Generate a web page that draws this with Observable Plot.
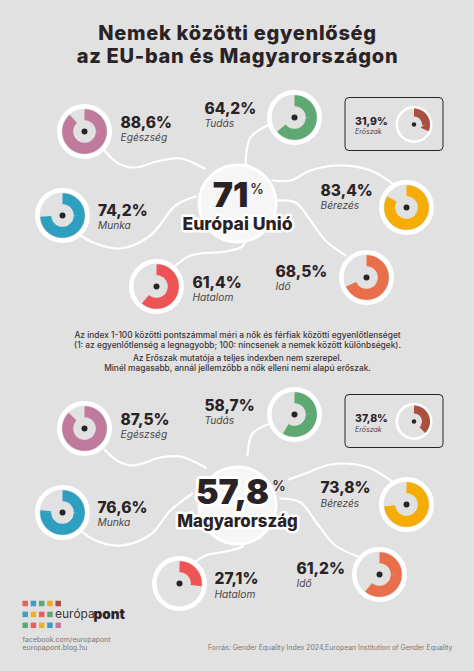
<!DOCTYPE html>
<html lang="hu"><head><meta charset="utf-8">
<script src="https://cdn.jsdelivr.net/npm/d3@7"></script>
<script src="https://cdn.jsdelivr.net/npm/@observablehq/plot@0.6"></script>
<style>html,body{margin:0;padding:0;background:#e2e1e1}svg{display:block}.ttl{letter-spacing:.72px}</style>
</head><body>
<script>
// ---- data ----
const categories = ["Egészség","Tudás","Erőszak","Munka","Bérezés","Hatalom","Idő"];
const euValues = [88.6,64.2,31.9,74.2,83.4,61.4,68.5];
const huValues = [87.5,58.7,37.8,76.6,73.8,27.1,61.2];
const euTotal = 71, huTotal = 57.8;
const colors = ["#c07b9c","#5da873","#a9503f","#2f9fc0","#f5ad05","#ee5454","#e86f4a"];
const titleLines = ["Nemek közötti egyenlőség","az EU-ban és Magyarországon"];
const noteLines = [
 "Az index 1-100 közötti pontszámmal méri a nők és férfiak közötti egyenlőtlenséget",
 "(1: az egyenlőtlenség a legnagyobb; 100: nincsenek a nemek között különbségek).",
 "Az Erőszak mutatója a teljes indexben nem szerepel.",
 "Minél magasabb, annál jellemzőbb a nők elleni nemi alapú erőszak."];
const logoColors = [
 ["#e0645c","#3f9cc4","#5da873","#f0a92a","#a9503f"],
 ["#3f9cc4","#f0b020","#e8605c","#5da873"],
 ["#5da873","#e8605c","#f0b020","#3f9cc4","#c07b9c"]];

// ---- layout ----
const euCenters = [[84,131],[294,117],[413.5,124],[62,215],[406,207],[156,286],[366,277]];
const huCenters = [[84,428],[294,414],[413.5,421],[62,512],[406,504],[179,583],[379,574]];
const euLabels = [[120,122.3,137.3],[204,108.3,123],[354.5,121,131.6],[97.5,210.3,225],[320,190.3,205.3],[192,282.3,297],[275,271.7,286.4]];
const huLabels = [[120,419.3,434.2],[204,405.3,420],[354.5,418.3,429],[97,507.7,522.2],[320,488,502.8],[214,579,593.8],[296,568.3,583]];
const euLinks = [
 [[104,150],[118,163],[135,167],[160,160],[180,158],[204,168]],
 [[267,125],[250,137],[245,165]],
 [[272,180],[290,180],[310,170],[335,165],[370,170],[393,184]],
 [[277,200],[295,202],[310,220],[325,240],[345,255]],
 [[195,196],[175,205],[150,235],[120,248],[95,243],[80,235]],
 [[243,235],[243,245],[225,251],[190,255],[170,270]]];
const huLinks = [
 [[104,449],[118,461],[133,465],[160,457],[180,456],[205,467]],
 [[270,423],[252,433],[247,455]],
 [[288,479],[305,473],[330,464],[365,466],[393,482]],
 [[280,498],[300,502],[318,525],[335,545],[360,557]],
 [[192,493],[170,510],[150,534],[120,545],[95,540],[80,530]],
 [[243,535],[243,545],[225,551],[205,555],[190,565]]];

const FONT = "Inter, 'Open Sans', sans-serif";
const INK = "#2a2326";
const fmt = v => String(v).replace(".",",");
const isSmall = i => categories[i] === "Erőszak";

function arcPoints(values, centers, big){
  const out = [];
  values.forEach((v,i)=>{
    if (isSmall(i) === big) return;
    const r = big ? 16.8 : 12, [cx,cy] = centers[i];
    const n = Math.ceil(v*2);
    for (let k=0;k<=n;k++){
      const a = 2*Math.PI*(v*k/n)/100;
      out.push({cat:categories[i], x:cx+r*Math.sin(a), y:cy-r*Math.cos(a)});
    }
  });
  return out;
}
function panel(values, centers, labels, links, total, c){
  const nodes = categories.map((cat,i)=>({cat, x:centers[i][0], y:centers[i][1], small:isSmall(i)}));
  const lbl = categories.map((cat,i)=>({cat, v:fmt(values[i])+"%", x:labels[i][0], y1:labels[i][1], y2:labels[i][2], small:isSmall(i)}));
  const linkPts = links.flatMap((pts,id)=>pts.map(p=>({id,x:p[0],y:p[1]})));
  const big = nodes.filter(d=>!d.small), small = nodes.filter(d=>d.small);
  const lb = lbl.filter(d=>!d.small), ls = lbl.filter(d=>d.small);
  return [
    Plot.line(linkPts,{x:"x",y:"y",z:"id",curve:"catmull-rom",stroke:"#fff",strokeWidth:2.2}),
    Plot.dot(big,{x:"x",y:"y",r:25.2,fill:"#e2e1e1",stroke:"#fff",strokeWidth:4.6}),
    Plot.dot(small,{x:"x",y:"y",r:17.2,fill:"#e2e1e1",stroke:"#fff",strokeWidth:2.6}),
    Plot.line(arcPoints(values,centers,true),{x:"x",y:"y",z:"cat",stroke:"cat",strokeWidth:11,curve:"linear",strokeLinecap:"butt",strokeLinejoin:"round"}),
    Plot.line(arcPoints(values,centers,false),{x:"x",y:"y",z:"cat",stroke:"cat",strokeWidth:8,curve:"linear",strokeLinecap:"butt",strokeLinejoin:"round"}),
    Plot.dot(big,{x:"x",y:"y",r:3,fill:INK,stroke:null}),
    Plot.dot(small,{x:"x",y:"y",r:2.2,fill:INK,stroke:null}),
    Plot.text(lb,{x:"x",y:"y1",text:"v",textAnchor:"start",fontFamily:FONT,fontWeight:800,fontSize:15.5,fill:INK}),
    Plot.text(lb,{x:"x",y:"y2",text:"cat",textAnchor:"start",fontFamily:FONT,fontStyle:"italic",fontSize:10.2,fill:"#4a4547"}),
    Plot.text(ls,{x:"x",y:"y1",text:"v",textAnchor:"start",fontFamily:FONT,fontWeight:800,fontSize:10.5,fill:INK}),
    Plot.text(ls,{x:"x",y:"y2",text:"cat",textAnchor:"start",fontFamily:FONT,fontStyle:"italic",fontSize:7,fill:"#4a4547"}),
    Plot.dot([c.ring],{x:"x",y:"y",r:38.5,fill:"#f6f6f6",stroke:"#fff",strokeWidth:3}),
    Plot.text([c.big],{x:"x",y:"y",text:()=>fmt(total),fontFamily:FONT,fontWeight:900,fontSize:c.big.size,fill:INK,stroke:"#fff",strokeWidth:c.big.halo}),
    Plot.text([c.pct],{x:"x",y:"y",text:()=>"%",textAnchor:"start",fontFamily:FONT,fontWeight:500,fontSize:14,fill:INK}),
    Plot.text([c.name],{x:"x",y:"y",text:()=>c.name.t,fontFamily:FONT,fontWeight:800,fontSize:c.name.size,fill:INK,stroke:"#fff",strokeWidth:5})
  ];
}
const logoCells = logoColors.flatMap((row,r)=>row.map((fill,c)=>({fill,c,r})));
const logoX = c=>24.7+8.25*c, logoY = r=>603+10.9*r;

const marks = [
  Plot.text([titleLines.join("\n")],{x:()=>237,y:()=>43.5,text:d=>d,lineHeight:1.15,className:"ttl",fontFamily:FONT,fontWeight:800,fontSize:20,fill:INK}),
  ...panel(euValues,euCenters,euLabels,euLinks,euTotal,{
    ring:{x:237,y:203},
    big:{x:230,y:195.5,size:34,halo:0},
    pct:{x:249.5,y:189},
    name:{x:237,y:223.5,t:"Európai Unió",size:17.6}}),
  Plot.text(noteLines,{x:()=>237,y:(d,i)=>[335,345,358,368][i],text:d=>d,fontFamily:FONT,fontWeight:500,fontSize:8.35,fill:"#3a3537"}),
  ...panel(huValues,huCenters,huLabels,huLinks,huTotal,{
    ring:{x:237,y:505},
    big:{x:232,y:493,size:34,halo:6},
    pct:{x:271.5,y:486.5},
    name:{x:237,y:521.5,t:"Magyarország",size:16.8}}),
  Plot.dot(logoCells,{x:d=>logoX(d.c),y:d=>logoY(d.r),symbol:"square",r:3.1,fill:d=>d.fill,stroke:null}),
  Plot.text(["európa"],{x:()=>54.5,y:()=>614,text:d=>d,textAnchor:"start",fontFamily:FONT,fontSize:12,fill:"#3a3537"}),
  Plot.text(["pont"],{x:()=>93,y:()=>614,text:d=>d,textAnchor:"start",fontFamily:FONT,fontWeight:900,fontSize:13.5,fill:INK}),
  Plot.text(["facebook.com/europapont","europapont.blog.hu"],{x:()=>22,y:(d,i)=>[639,647][i],text:d=>d,textAnchor:"start",fontFamily:FONT,fontSize:7,fill:"#7a7678"}),
  Plot.text(["Forrás: Gender Equality Index 2024,European Institution of Gender Equality"],{x:()=>452,y:()=>647,text:d=>d,textAnchor:"end",fontFamily:FONT,fontSize:6.9,fill:"#7a7678"}),
  Plot.rect([0],{x1:()=>345,x2:()=>443,y1:()=>97.5,y2:()=>150.5,rx:4,fill:"none",stroke:INK,strokeWidth:1}),
  Plot.rect([0],{x1:()=>345,x2:()=>443,y1:()=>394.5,y2:()=>447.5,rx:4,fill:"none",stroke:INK,strokeWidth:1})
];
const chart = Plot.plot({
  width:474,height:671,margin:0,
  style:{background:"#e2e1e1",fontFamily:FONT},
  x:{domain:[0,474],range:[0,474],axis:null},
  y:{domain:[0,671],range:[0,671],axis:null},
  color:{domain:categories,range:colors},
  marks
});
document.body.appendChild(chart);
</script>
</body></html>
